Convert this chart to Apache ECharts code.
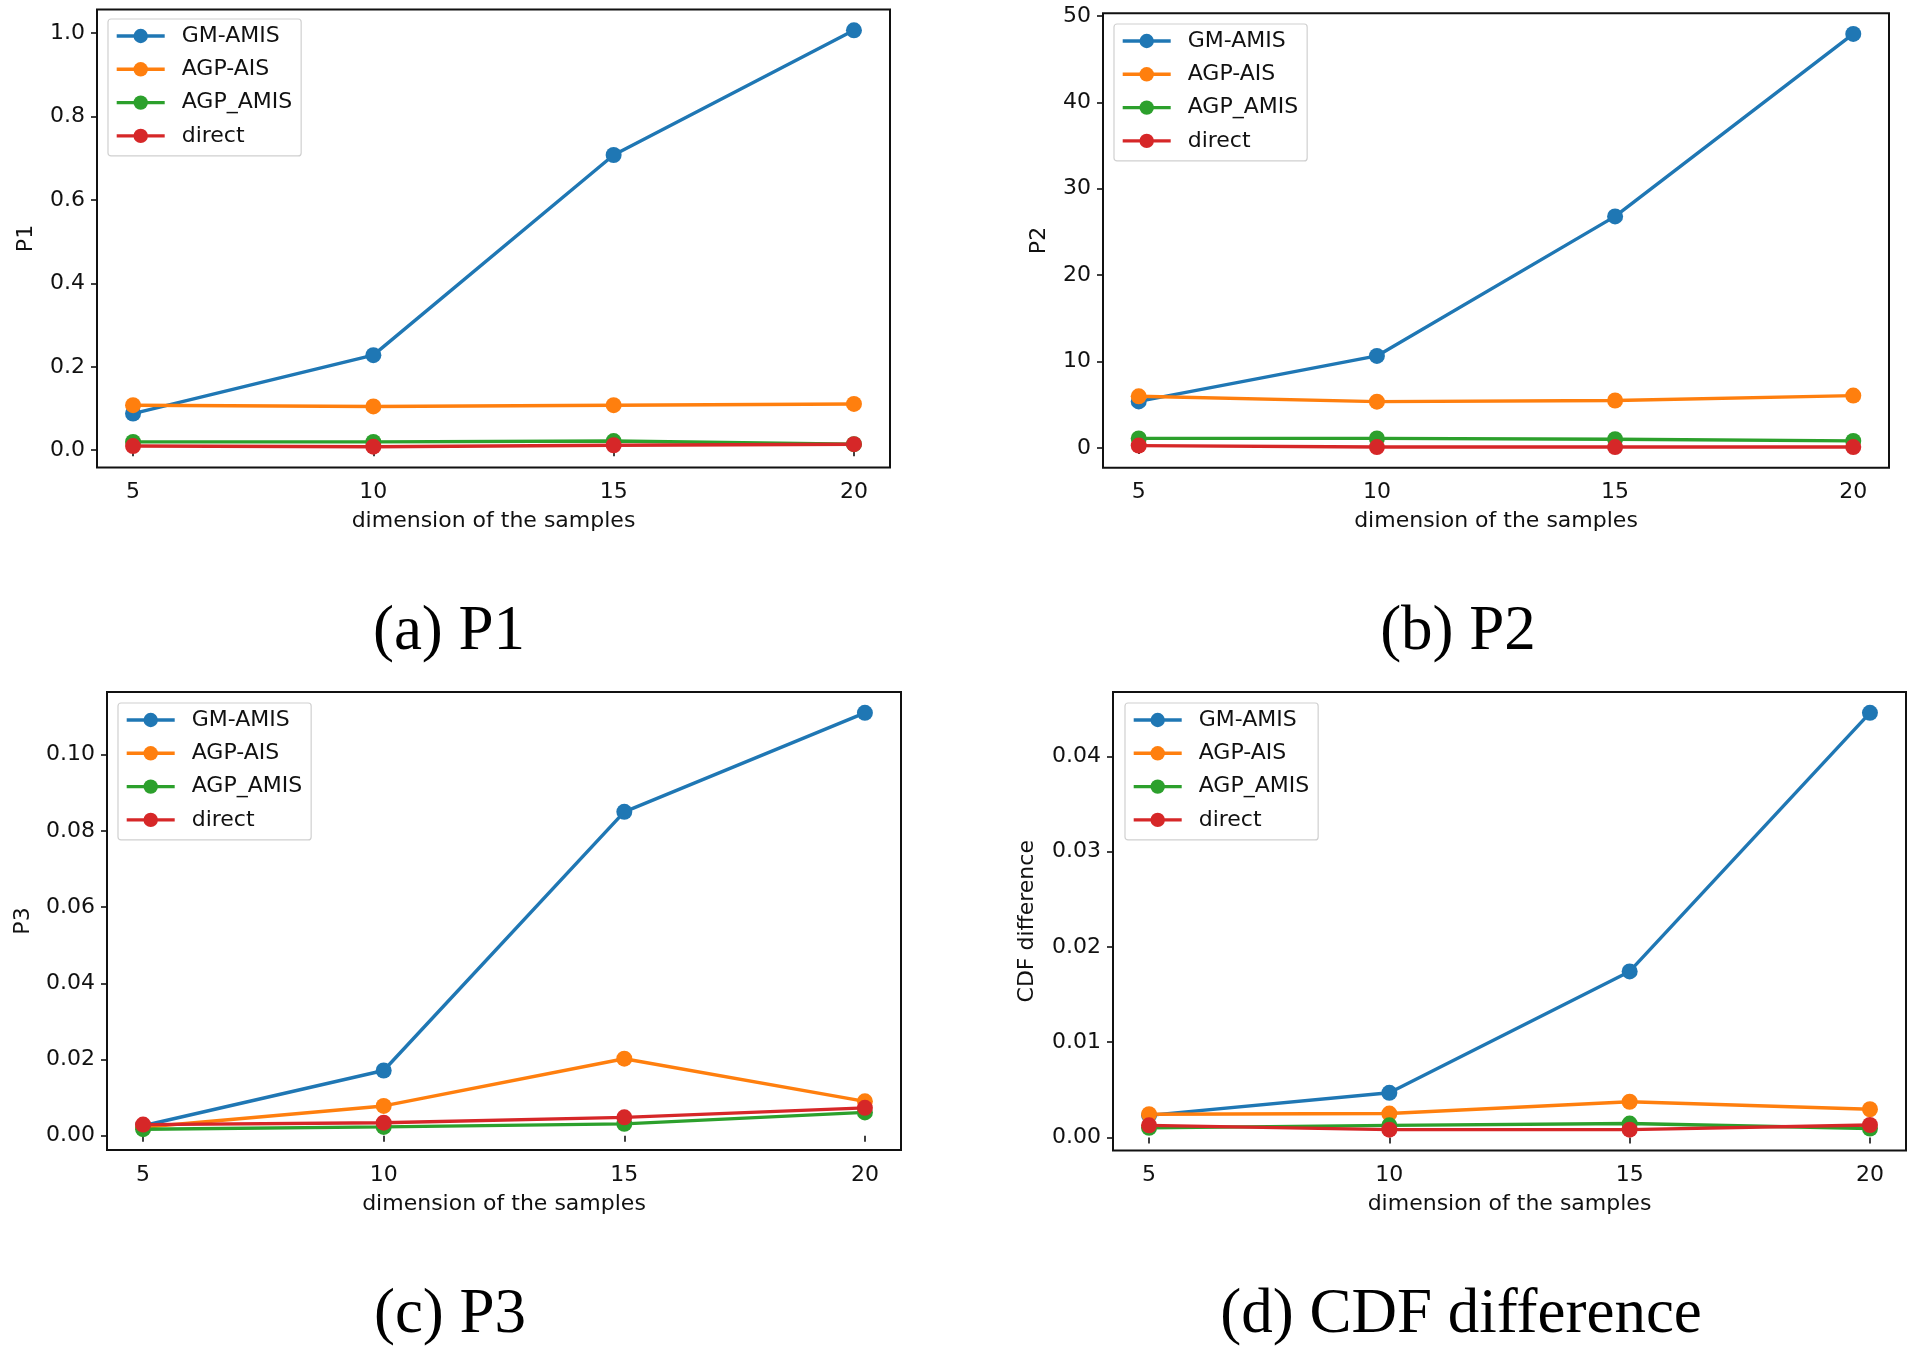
<!DOCTYPE html>
<html><head><meta charset="utf-8">
<script src="https://cdn.jsdelivr.net/npm/echarts@6/dist/echarts.min.js"></script>
<style>html,body{margin:0;padding:0;background:#fff}#c{width:1916px;height:1351px}</style>
</head><body><div id="c"></div>
<script>
// ---- data ----
const dims = [5, 10, 15, 20];
const seriesNames = ['GM-AMIS', 'AGP-AIS', 'AGP_AMIS', 'direct'];

const p1_gm     = [0.088, 0.228, 0.708, 1.007];
const p1_agpais = [0.108, 0.105, 0.108, 0.111];
const p1_agpamis= [0.020, 0.020, 0.022, 0.0145];
const p1_direct = [0.010, 0.0085, 0.012, 0.0145];

const p2_gm     = [5.4, 10.66, 26.8, 47.9];
const p2_agpais = [5.99, 5.37, 5.5, 6.07];
const p2_agpamis= [1.12, 1.12, 1.03, 0.83];
const p2_direct = [0.29, 0.12, 0.12, 0.12];

const p3_gm     = [0.0026, 0.0171, 0.085, 0.111];
const p3_agpais = [0.0022, 0.0078, 0.0202, 0.009];
const p3_agpamis= [0.0017, 0.0023, 0.0031, 0.0061];
const p3_direct = [0.0029, 0.0034, 0.0048, 0.0073];

const cdf_gm     = [0.00232, 0.00469, 0.01743, 0.04457];
const cdf_agpais = [0.00244, 0.00251, 0.00375, 0.00296];
const cdf_agpamis= [0.00101, 0.00127, 0.00146, 0.00094];
const cdf_direct = [0.00127, 0.00082, 0.00082, 0.00131];

const xTicks = [5, 10, 15, 20];
const xTickLabels = ['5', '10', '15', '20'];
const p1Ticks = [0, 0.2, 0.4, 0.6, 0.8, 1.0];
const p1TickLabels = ['0.0', '0.2', '0.4', '0.6', '0.8', '1.0'];
const p2Ticks = [0, 10, 20, 30, 40, 50];
const p2TickLabels = ['0', '10', '20', '30', '40', '50'];
const p3Ticks = [0, 0.02, 0.04, 0.06, 0.08, 0.10];
const p3TickLabels = ['0.00', '0.02', '0.04', '0.06', '0.08', '0.10'];
const cdfTicks = [0, 0.01, 0.02, 0.03, 0.04];
const cdfTickLabels = ['0.00', '0.01', '0.02', '0.03', '0.04'];

const xAxisTitle = 'dimension of the samples';
const yAxisTitles = ['P1', 'P2', 'P3', 'CDF difference'];
const captions = ['(a) P1', '(b) P2', '(c) P3', '(d) CDF difference'];

// ---- layout / style ----
const colors = ['#1f77b4', '#ff7f0e', '#2ca02c', '#d62728'];
const FONT = 'DejaVu Sans';
const LW = 3.4;
const panels = [
  {vals: [p1_gm, p1_agpais, p1_agpamis, p1_direct], ticks: p1Ticks, labels: p1TickLabels,
   grid: {left: 97, top: 9.5, width: 793, height: 458}, legend: {left: 108, top: 19}, nameGap: 60, cap: [449, 632]},
  {vals: [p2_gm, p2_agpais, p2_agpamis, p2_direct], ticks: p2Ticks, labels: p2TickLabels,
   grid: {left: 1103, top: 13.3, width: 786, height: 454.4}, legend: {left: 1114, top: 24}, nameGap: 53, cap: [1458, 632]},
  {vals: [p3_gm, p3_agpais, p3_agpamis, p3_direct], ticks: p3Ticks, labels: p3TickLabels,
   grid: {left: 107, top: 692, width: 794, height: 458}, legend: {left: 118, top: 703}, nameGap: 73, cap: [450, 1315]},
  {vals: [cdf_gm, cdf_agpais, cdf_agpamis, cdf_direct], ticks: cdfTicks, labels: cdfTickLabels,
   grid: {left: 1113, top: 692, width: 793, height: 458.5}, legend: {left: 1125, top: 703}, nameGap: 75, cap: [1461, 1315]}
];

const grids = [], xAxes = [], yAxes = [], series = [], legends = [], graphics = [];
const labelStyle = {fontFamily: FONT, fontSize: 22, color: '#111'};

panels.forEach((p, i) => {
  grids.push(Object.assign({show: true, borderColor: '#111', borderWidth: 2, backgroundColor: 'transparent'}, p.grid));
  // matplotlib-style 5% margins
  const xmin = Math.min(...dims), xmax = Math.max(...dims), xr = xmax - xmin;
  const all = [].concat(...p.vals);
  const ymin = Math.min(...all), ymax = Math.max(...all), yr = ymax - ymin;
  xAxes.push({
    type: 'value', gridIndex: i, min: xmin - 0.05 * xr, max: xmax + 0.05 * xr,
    name: xAxisTitle, nameLocation: 'middle', nameGap: 43,
    nameTextStyle: labelStyle,
    axisLine: {show: false}, splitLine: {show: false},
    axisTick: {show: true, length: 6, inside: false, customValues: xTicks, lineStyle: {color: '#111', width: 1.6}},
    axisLabel: {show: true, margin: 14, customValues: xTicks, fontFamily: FONT, fontSize: 22, color: '#111',
      formatter: v => xTickLabels[xTicks.indexOf(v)] }
  });
  yAxes.push({
    type: 'value', gridIndex: i, min: ymin - 0.05 * yr, max: ymax + 0.05 * yr,
    name: yAxisTitles[i], nameLocation: 'middle', nameGap: p.nameGap, nameRotate: 90,
    nameTextStyle: labelStyle,
    axisLine: {show: false}, splitLine: {show: false},
    axisTick: {show: true, length: 6, inside: false, customValues: p.ticks, lineStyle: {color: '#111', width: 1.6}},
    axisLabel: {show: true, margin: 12, customValues: p.ticks, fontFamily: FONT, fontSize: 22, color: '#111',
      formatter: v => { let k = p.ticks.findIndex(t => Math.abs(t - v) < 1e-9); return k >= 0 ? p.labels[k] : ''; } }
  });
  seriesNames.forEach((nm, j) => {
    series.push({
      type: 'line', name: nm, xAxisIndex: i, yAxisIndex: i,
      data: dims.map((d, k) => [d, p.vals[j][k]]),
      symbol: 'circle', symbolSize: 16, showSymbol: true,
      lineStyle: {width: LW, color: colors[j]}, itemStyle: {color: colors[j]},
      emphasis: {disabled: true}, animation: false, clip: false
    });
  });
  legends.push({
    orient: 'vertical', left: p.legend.left, top: p.legend.top,
    data: seriesNames, itemWidth: 48, itemHeight: 18, itemGap: 11.3,
    padding: [6, 9, 9, 7], borderColor: '#d0d0d0', borderWidth: 1.2, borderRadius: 3,
    backgroundColor: 'rgba(255,255,255,0.8)',
    lineStyle: {width: LW},
    textStyle: {fontFamily: FONT, fontSize: 22, color: '#111', lineHeight: 22, padding: [0, 0, 0, 12]},
    selectedMode: false
  });
  graphics.push({
    type: 'text', x: p.cap[0], y: p.cap[1],
    style: {text: captions[i], fontFamily: 'Liberation Serif', fontSize: 63, fill: '#000',
      align: 'center', verticalAlign: 'middle'}
  });
});

const chart = echarts.init(document.getElementById('c'), null, {renderer: 'canvas'});
chart.setOption({
  backgroundColor: '#fff', animation: false, color: colors,
  grid: grids, xAxis: xAxes, yAxis: yAxes, series: series, legend: legends, graphic: graphics
});
</script></body></html>
